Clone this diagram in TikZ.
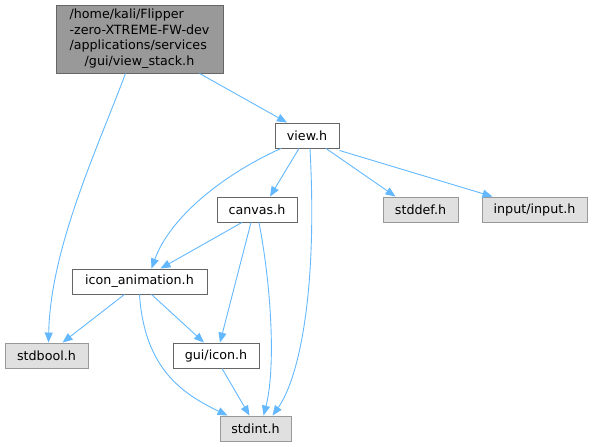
\documentclass[tikz,border=0pt]{standalone}
\usepackage{fontspec}
\setmainfont{DejaVu Sans}
\usetikzlibrary{arrows.meta}
\definecolor{edgeblue}{HTML}{63B8FF}
\definecolor{graybox}{HTML}{E0E0E0}
\definecolor{grayline}{HTML}{999999}
\definecolor{darkline}{HTML}{666666}
\definecolor{topfill}{HTML}{999999}
\tikzset{
  base/.style={draw, line width=0.9pt, inner sep=0pt, minimum height=25pt,
    font=\fontsize{12.7}{15.5}\selectfont, text=black},
  plainbox/.style={base, draw=darkline, fill=white},
  sysbox/.style={base, draw=grayline, fill=graybox},
  topbox/.style={base, draw=darkline, fill=topfill},
  dep/.style={draw=edgeblue, line width=0.9pt, -{Triangle[length=10pt,width=8pt]}, fill=none},
}
\begin{document}
\begin{tikzpicture}[x=1pt,y=-1pt]
\useasboundingbox (0,0) rectangle (592,447);
\node[topbox, minimum width=167pt, minimum height=68pt] (top) at (139.5,39)
  {\begin{tabular}{@{}l@{}}/home/kali/Flipper\\-zero-XTREME-FW-dev\\/applications/services\\\multicolumn{1}{@{}c@{}}{/gui/view\_stack.h}\end{tabular}};
\node[plainbox, minimum width=64pt] (view) at (307,135.5) {view.h};
\node[plainbox, minimum width=80pt] (canvas) at (257,209.5) {canvas.h};
\node[sysbox, minimum width=75pt] (stddef) at (420.5,209.5) {stddef.h};
\node[sysbox, minimum width=105pt] (input) at (534.5,209.5) {input/input.h};
\node[plainbox, minimum width=135pt] (anim) at (139.5,281.5) {icon\_animation.h};
\node[sysbox, minimum width=83pt] (stdbool) at (46.5,355.5) {stdbool.h};
\node[plainbox, minimum width=86pt] (icon) at (216,355.5) {gui/icon.h};
\node[sysbox, minimum width=71pt] (stdint) at (255.5,428.5) {stdint.h};

% top
\draw[dep] ([xshift=-14pt]top.south) .. controls +(-28,75) and +(2,-95) .. ([xshift=2pt]stdbool.north);
\draw[dep] ([xshift=60pt]top.south) -- ([xshift=-20pt]view.north);
% view
\draw[dep] ([xshift=-8pt]view.south) -- ([xshift=13pt]canvas.north);
\draw[dep] ([xshift=-26pt]view.south) .. controls +(-60,27) and +(18,-50) .. ([xshift=12pt]anim.north);
\draw[dep] ([xshift=3pt]view.south) .. controls +(8,150) and +(25,-35) .. ([xshift=17pt]stdint.north);
\draw[dep] ([xshift=19pt]view.south) -- ([xshift=-25pt]stddef.north);
\draw[dep] ([yshift=-2pt]view.south east) -- ([xshift=-42pt]input.north);
% canvas
\draw[dep] ([xshift=-15pt]canvas.south) -- ([xshift=21pt]anim.north);
\draw[dep] ([xshift=-6pt]canvas.south) -- ([xshift=4pt]icon.north);
\draw[dep] ([xshift=2pt]canvas.south) .. controls +(13,68) and +(12,-46) .. ([xshift=8pt]stdint.north);
% icon_animation
\draw[dep] ([xshift=-15pt]anim.south) -- ([xshift=16pt]stdbool.north);
\draw[dep] ([xshift=12pt]anim.south) -- ([xshift=-12pt]icon.north);
\draw[dep] (anim.south) .. controls +(5,76) and +(-43,-21) .. ([xshift=-28pt]stdint.north);
% gui/icon
\draw[dep] ([xshift=6pt]icon.south) -- ([xshift=-6pt]stdint.north);
\end{tikzpicture}
\end{document}
